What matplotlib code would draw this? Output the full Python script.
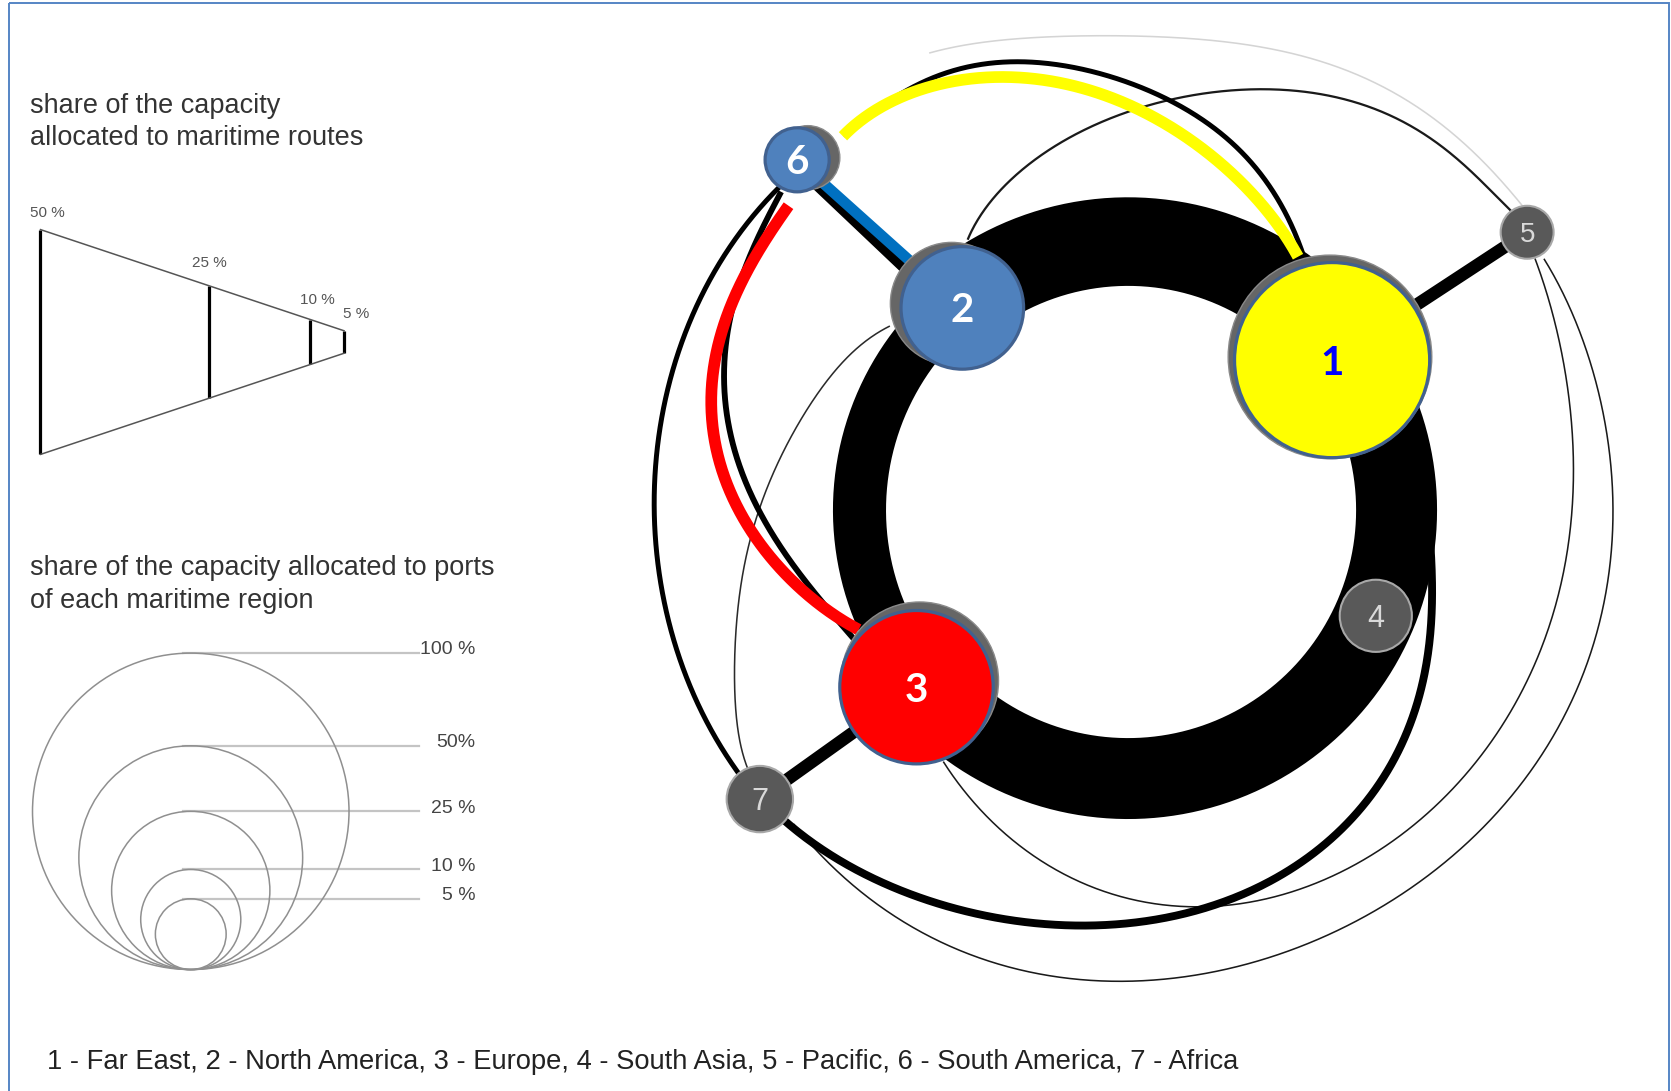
import numpy as np
import matplotlib
matplotlib.use("Agg")
import matplotlib.pyplot as plt
from matplotlib.patches import Circle, Rectangle

# ---------------- data ----------------
region_ids = ["1", "2", "3", "4", "5", "6", "7"]
region_names = ["Far East", "North America", "Europe", "South Asia",
                "Pacific", "South America", "Africa"]
port_share = [38.0, 15.0, 23.5, 5.2, 2.8, 4.1, 4.4]        # % of capacity (circle area)
node_fill = ["#ffff00", "#4f81bd", "#ff0000", "#595959", "#595959", "#4f81bd", "#595959"]
node_text = ["#0000ff", "white", "white", "#d9d9d9", "#d9d9d9", "white", "#d9d9d9"]
highlighted = [True, True, True, False, False, True, False]

# ring routes between the three main regions (share of capacity, %)
ring_from = [1, 2, 3]
ring_to = [2, 3, 1]
ring_share = [19.7, 11.8, 18.0]

# other routes (share of capacity, %)
route_from = [6, 6, 6, 6, 6, 6, 5, 7, 6, 7, 2, 3, 7, 2, 6]
route_to = [5, 7, 3, 1, 2, 2, 1, 3, 3, 1, 5, 5, 5, 7, 1]
route_share = [0.35, 1.1, 1.3, 1.1, 2.4, 2.4, 2.8, 2.8, 2.6, 1.75, 0.5, 0.35, 0.35, 0.35, 2.6]
route_color = ["#d4d4d4", "black", "black", "black", "black", "#0070c0", "black", "black",
               "#ff0000", "black", "#1a1a1a", "#1a1a1a", "#1a1a1a", "#2a2a2a", "#ffff00"]

# legends
wedge_shares = [50, 25, 10, 5]
wedge_labels = ["50 %", "25 %", "10 %", "5 %"]
circle_shares = [100, 50, 25, 10, 5]
circle_labels = ["100 %", "50%", "25 %", "10 %", "5 %"]
title_routes = ["share of the capacity", "allocated to maritime routes"]
title_ports = ["share of the capacity allocated to ports", "of each maritime region"]
legend_text = ", ".join(f"{i} - {n}" for i, n in zip(region_ids, region_names))

# ---------------- layout (canvas units) ----------------
W, H = 1568, 1024
node_xy = {1: (1250, 338), 2: (903, 289), 3: (860, 645), 4: (1291, 578),
           5: (1433, 218), 6: (748, 150), 7: (713, 750)}
shadow_off = {1: (-2, -3, 4), 2: (-10, -4, 0), 3: (3, -6, 2), 6: (10, -2, 0)}
ring_c = (1058.5, 478.75)
ring_r = 252.0
px_per_pct = 4.22           # stroke width per % of capacity
r100 = 148.5                # radius of 100 % port circle

# route paths (waypoints)
route_pts = [
    [(872, 50), (917, 40), (1034, 34), (1201, 47), (1314, 91), (1400, 160), (1434, 200)],
    [(732, 175), (644, 309), (614.6, 460), (635, 611), (700, 735)],
    [(733, 180), (694, 266), (680.3, 370), (703.8, 463.6), (750.7, 537.6), (797.6, 597.7),
     (808, 606)],
    [(791, 127), (846, 89), (883, 68), (950, 59.4), (1034, 68.8), (1117.6, 106), (1180.5, 159.5),
     (1216, 222), (1228, 255)],
    [(750, 158), (886, 287)],
    None,
    None,
    None,
    [(739.6, 193), (700.6, 257.6), (666, 362), (688, 463.6), (735, 537.6), (806, 591)],
    [(725, 760), (833.8, 830.8), (993.7, 869), (1142, 846.4), (1261, 779.8), (1320, 684.5),
     (1342, 589), (1344, 530), (1338, 450)],
    [(908, 225), (971, 150), (1054.7, 106.3), (1159.5, 84.5), (1264, 94), (1313.7, 112.6),
     (1388.8, 169), (1420, 200)],
    [(885, 715), (948, 785.5), (1053, 843.6), (1130, 850), (1231, 830.8), (1338, 764),
     (1427, 652.7), (1451, 591), (1470, 528.6), (1476.4, 434.8), (1463.8, 325), (1440.4, 242.4)],
    [(745, 773.6), (816, 843.6), (934.6, 904), (1083, 921.5), (1231, 881.8), (1349.8, 811.7),
     (1468.5, 684.5), (1498, 591), (1507.6, 528.6), (1510.8, 434.8), (1489, 325), (1448, 242.4)],
    [(835, 306), (782, 350), (735, 423.6), (707, 497), (692.6, 564), (689.7, 631.5),
     (694.4, 698), (702, 722)],
    [(791, 128), (845.5, 90.7), (925, 73.5), (1013, 81), (1096.7, 118.9), (1159.5, 165.8),
     (1218, 241)],
]
route_z = [1, 3, 3, 3, 4, 6, 4, 4, 6, 3, 2, 2, 2, 2, 6]

fig = plt.figure(figsize=(16.71, 10.91), dpi=100)
ax = fig.add_axes([0, 0, 1, 1])
ax.set_xlim(0, W)
ax.set_ylim(H, 0)
ax.axis("off")

pt_per_unit = (1671 / W) * 72 / 100
unit_per_pt = 1 / pt_per_unit


def lw_of(share):
    return share * px_per_pct * pt_per_unit


def smooth(pts):
    """least-squares polynomial curve through the waypoints (chord-length parameter)"""
    pts = np.asarray(pts, float)
    n = len(pts)
    if n == 2:
        return pts[:, 0], pts[:, 1]
    d = np.r_[0, np.cumsum(np.hypot(*np.diff(pts, axis=0).T))]
    t = d / d[-1]
    deg = n - 1 if n <= 4 else min(n - 2, 6)
    px = np.polyfit(t, pts[:, 0], deg)
    py = np.polyfit(t, pts[:, 1], deg)
    tt = np.linspace(0, 1, 400)
    return np.polyval(px, tt), np.polyval(py, tt)


# border
ax.add_patch(Rectangle((8.5, 2.8), 1557.2, 1040, fill=False, ec="#5585c5", lw=1.4, zorder=0))


def ang(n):
    x, y = node_xy[n]
    return np.degrees(np.arctan2(-(y - ring_c[1]), x - ring_c[0])) % 360


# ring routes
for a, b, s in zip(ring_from, ring_to, ring_share):
    t1, t2 = ang(a), ang(b)
    if t2 < t1:
        t2 += 360
    t = np.radians(np.linspace(t1, t2, 200))
    ax.plot(ring_c[0] + ring_r * np.cos(t), ring_c[1] - ring_r * np.sin(t),
            color="black", lw=lw_of(s), solid_capstyle="butt", zorder=2)

# other routes
for a, b, s, c, pts, z in zip(route_from, route_to, route_share, route_color, route_pts, route_z):
    if pts is None:
        pts = [node_xy[a], node_xy[b]]
    xs, ys = smooth(pts)
    ax.plot(xs, ys, color=c, lw=lw_of(s), solid_capstyle="butt",
            solid_joinstyle="round", zorder=z)

# nodes
for i, rid in enumerate(region_ids):
    n = i + 1
    x, y = node_xy[n]
    r = r100 * np.sqrt(port_share[i] / 100)
    if highlighted[i]:
        dx, dy, dr = shadow_off[n]
        ax.add_patch(Circle((x + dx, y + dy), r + dr, fc="#666666", ec="#8a8a8a", lw=1, zorder=7))
        ax.add_patch(Circle((x, y), r, fc=node_fill[i], ec="#41618f", lw=2.3, zorder=8))
        fs = 29
        ax.text(x, y + 0.36 * fs * unit_per_pt, rid, ha="center", va="baseline",
                fontsize=fs, fontweight="bold", color=node_text[i], family=["Lato", "DejaVu Sans"],
                zorder=9)
    else:
        ax.add_patch(Circle((x, y), r, fc=node_fill[i], ec="#a8a8a8", lw=1.5, zorder=8))
        fs = 22 if n != 5 else 20
        ax.text(x, y + 0.36 * fs * unit_per_pt, rid, ha="center", va="baseline", fontsize=fs,
                color=node_text[i], family=["Liberation Sans", "DejaVu Sans"], zorder=9)

# ---------- legend: routes wedge ----------
txt = dict(family=["Liberation Sans", "DejaVu Sans"], color="#333333")
ax.text(28, 106, title_routes[0], fontsize=19.5, va="baseline", **txt)
ax.text(28, 136, title_routes[1], fontsize=19.5, va="baseline", **txt)
wc = 321.0
wx = [354.5 - 1.5 * px_per_pct * s for s in wedge_shares]
hh = [px_per_pct * s / 2 for s in wedge_shares]
for x, h in zip(wx, hh):
    ax.plot([x, x], [wc - h, wc + h], color="black", lw=2.3, solid_capstyle="butt")
ax.plot([wx[0], wx[-1]], [wc - hh[0], wc - hh[-1]], color="#555555", lw=1.1)
ax.plot([wx[0], wx[-1]], [wc + hh[0], wc + hh[-1]], color="#555555", lw=1.1)
lab_dx = [-10, -16, -10, -1]
lab_dy = [-16, -21, -18, -16]
for x, h, lab, ddx, ddy in zip(wx, hh, wedge_labels, lab_dx, lab_dy):
    ax.text(x + ddx, wc - h + ddy, lab, fontsize=11, va="center", ha="left",
            family=["Liberation Sans", "DejaVu Sans"], color="#555555")

# ---------- legend: ports circles ----------
ax.text(28, 540, title_ports[0], fontsize=19.5, va="baseline", **txt)
ax.text(28, 571, title_ports[1], fontsize=19.5, va="baseline", **txt)
cx, cb = 179, 910
for s, lab in zip(circle_shares, circle_labels):
    r = r100 * np.sqrt(s / 100)
    ax.add_patch(Circle((cx, cb - r), r, fill=False, ec="#8f8f8f", lw=1.1, zorder=2))
    top = cb - 2 * r
    ax.plot([172, 393], [top, top], color="#c4c4c4", lw=1.6, zorder=1)
    ax.text(446, top - 3, lab, fontsize=14, ha="right", va="center",
            family=["Liberation Sans", "DejaVu Sans"], color="#444444")

# ---------- bottom legend ----------
ax.text(44, 1003, legend_text, fontsize=19.7, va="baseline",
        family=["Liberation Sans", "DejaVu Sans"], color="#222222")

fig.savefig("out.png", dpi=100, facecolor="white")
